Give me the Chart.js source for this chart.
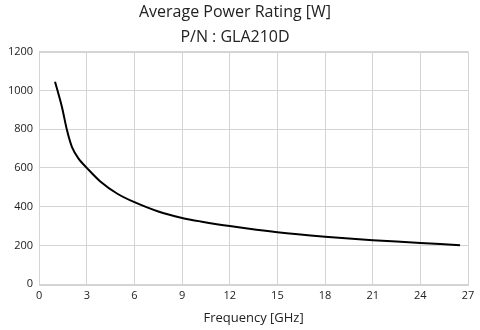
<!DOCTYPE html>
<html>
<head>
<meta charset="utf-8">
<script src="https://cdn.jsdelivr.net/npm/chart.js@4"></script>
<style>
  html, body { margin: 0; padding: 0; background: #fff; }
  #wrap { width: 480px; height: 330px; }
</style>
</head>
<body>
<div id="wrap"><canvas id="powerChart" width="480" height="330"></canvas></div>
<script>
// Frequency [GHz] and average power [W]
const freqGHz = [1.0, 1.43, 1.75, 2.06, 2.48, 3.0, 3.85, 4.9, 6.0, 7.5, 9.0, 10.16, 12.0, 15.0, 18.0, 21.0, 24.0, 26.5];
const powerW  = [1045, 916, 795, 709, 648, 600, 530, 468, 423, 375, 342, 324, 300, 268, 245, 227, 213, 201];

const titleLines = ["Average Power Rating [W]", "P/N : GLA210D"];
const xTitle = "Frequency [GHz]";

const points = freqGHz.map((f, i) => ({ x: f, y: powerW[i] }));

const fontFamily = "'Open Sans', 'DejaVu Sans', sans-serif";
const gridColor = "#d4d4d4";

new Chart(document.getElementById("powerChart"), {
    type: "line",
    data: {
        datasets: [{
            data: points,
            borderColor: "#000",
            borderWidth: 2,
            pointRadius: 0,
            tension: 0.3,
            fill: false
        }]
    },
    options: {
        responsive: false,
        animation: false,
        layout: { padding: { left: 2, right: 12, top: 0, bottom: 4 } },
        plugins: {
            legend: { display: false },
            tooltip: { enabled: false },
            title: {
                display: true,
                text: titleLines,
                color: "#222",
                font: { family: fontFamily, size: 16, weight: "normal", lineHeight: 1.55 },
                padding: { top: 0, bottom: 2 }
            }
        },
        scales: {
            x: {
                type: "linear",
                min: 0,
                max: 27,
                ticks: {
                    stepSize: 3,
                    color: "#222",
                    font: { family: fontFamily, size: 11 },
                    padding: 5,
                    maxRotation: 0,
                    callback: v => String(v)
                },
                grid: { color: gridColor, drawTicks: false },
                border: { color: gridColor },
                title: {
                    display: true,
                    text: xTitle,
                    color: "#222",
                    font: { family: fontFamily, size: 13 },
                    padding: { top: 3, bottom: 0 }
                }
            },
            y: {
                min: 0,
                max: 1200,
                ticks: {
                    stepSize: 200,
                    color: "#222",
                    font: { family: fontFamily, size: 11 },
                    padding: 6,
                    callback: v => String(v)
                },
                grid: { color: gridColor, drawTicks: false },
                border: { color: gridColor }
            }
        }
    },
    plugins: [{
        // gray frame around the plot area (top and right edges)
        id: "frame",
        afterDraw(chart) {
            const { ctx, chartArea: a } = chart;
            ctx.save();
            ctx.strokeStyle = gridColor;
            ctx.lineWidth = 1;
            ctx.strokeRect(Math.round(a.left) + 0.5, Math.round(a.top) + 0.5,
                Math.round(a.right - a.left), Math.round(a.bottom - a.top));
            ctx.restore();
        }
    }]
});
</script>
</body>
</html>
